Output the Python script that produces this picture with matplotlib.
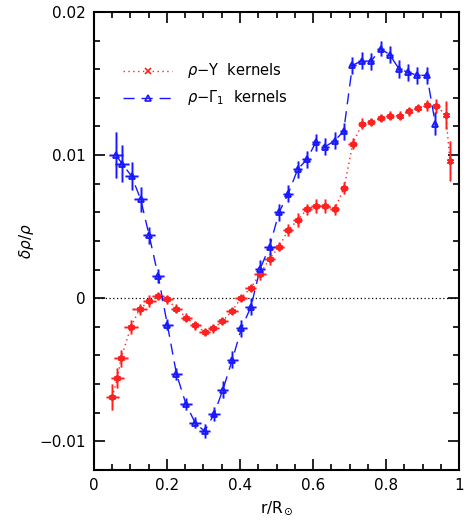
import numpy as np
import matplotlib
matplotlib.use('Agg')
import matplotlib.pyplot as plt
from matplotlib.ticker import MultipleLocator, FuncFormatter

# rho-Y kernel inversion
ry_x = [0.050, 0.064, 0.074, 0.101, 0.125, 0.151, 0.175, 0.200, 0.226, 0.253,
        0.278, 0.303, 0.327, 0.352, 0.378, 0.403, 0.429, 0.455, 0.481, 0.507,
        0.532, 0.558, 0.583, 0.608, 0.634, 0.659, 0.685, 0.709, 0.735, 0.760,
        0.786, 0.811, 0.837, 0.862, 0.887, 0.913, 0.938, 0.964, 0.975]
ry_y = [-0.0069, -0.0056, -0.0042, -0.0020, -0.00077, -0.0002, 0.00016, -0.00007,
        -0.00072, -0.00135, -0.0019, -0.00235, -0.0021, -0.0016, -0.0009, 0.00002,
        0.0007, 0.0017, 0.00275, 0.0036, 0.00476, 0.00545, 0.0062, 0.00645,
        0.00645, 0.0062, 0.0077, 0.0108, 0.0122, 0.0123, 0.0126, 0.01275,
        0.01275, 0.01306, 0.0133, 0.01347, 0.01343, 0.0128, 0.0096]
ry_dy = [0.0009, 0.0007, 0.0006, 0.0005, 0.0004, 0.0004, 0.0003, 0.0003,
         0.0003, 0.0003, 0.0003, 0.0003, 0.0003, 0.0003, 0.0003, 0.0003,
         0.0003, 0.0004, 0.0004, 0.0003, 0.0004, 0.0005, 0.0004, 0.0005,
         0.0005, 0.0004, 0.0004, 0.0004, 0.0004, 0.0003, 0.0003, 0.0003,
         0.0003, 0.0003, 0.0003, 0.0004, 0.0005, 0.0010, 0.0014]
ry_dx = [0.018, 0.018, 0.020, 0.020, 0.020, 0.018, 0.017, 0.016, 0.016, 0.016,
         0.016, 0.016, 0.016, 0.016, 0.016, 0.016, 0.016, 0.016, 0.014, 0.014,
         0.014, 0.013, 0.013, 0.013, 0.012, 0.012, 0.012, 0.012, 0.011, 0.011,
         0.010, 0.010, 0.010, 0.010, 0.009, 0.009, 0.009, 0.005, 0.002]

# rho-Gamma1 kernel inversion
rg_x = [0.060, 0.077, 0.103, 0.128, 0.151, 0.176, 0.201, 0.226, 0.252, 0.277,
        0.303, 0.329, 0.353, 0.379, 0.404, 0.430, 0.455, 0.481, 0.507, 0.532,
        0.558, 0.583, 0.608, 0.634, 0.659, 0.684, 0.708, 0.734, 0.759, 0.785,
        0.810, 0.836, 0.861, 0.886, 0.912, 0.935]
rg_y = [0.0100, 0.0094, 0.00853, 0.0069, 0.0044, 0.00154, -0.00185, -0.0053,
        -0.0074, -0.0087, -0.0093, -0.0081, -0.0064, -0.0043, -0.0021, -0.0006,
        0.00205, 0.0036, 0.0060, 0.0073, 0.0090, 0.0097, 0.0109, 0.0106,
        0.0110, 0.01166, 0.01627, 0.0166, 0.01655, 0.01744, 0.01702, 0.01601,
        0.01578, 0.01557, 0.01557, 0.0122]
rg_dy = [0.0016, 0.0013, 0.0010, 0.00085, 0.0006, 0.0005, 0.0004, 0.0004,
         0.0004, 0.0004, 0.0005, 0.0005, 0.0006, 0.0006, 0.0006, 0.0006,
         0.0006, 0.0006, 0.0006, 0.0006, 0.0006, 0.0006, 0.0006, 0.0006,
         0.0006, 0.0006, 0.0006, 0.0006, 0.0006, 0.0005, 0.0006, 0.0006,
         0.0006, 0.0006, 0.0006, 0.0008]
rg_dx = [0.020, 0.020, 0.018, 0.018, 0.017, 0.016, 0.016, 0.016, 0.016, 0.016,
         0.016, 0.016, 0.015, 0.015, 0.015, 0.015, 0.014, 0.014, 0.013, 0.013,
         0.012, 0.012, 0.011, 0.011, 0.010, 0.010, 0.010, 0.010, 0.009, 0.009,
         0.009, 0.008, 0.008, 0.008, 0.007, 0.004]

plt.rcParams['font.family'] = 'DejaVu Sans'
plt.rcParams['mathtext.fontset'] = 'dejavusans'

fig = plt.figure(figsize=(4.66, 5.21), dpi=100)
ax = fig.add_axes([0.2017, 0.098, 0.7833, 0.879])

red = '#ff2020'
blue = '#1818ff'

# rho-Y: dotted line, asterisks, soft thick error bars under thin ones
ax.errorbar(ry_x, ry_y, xerr=ry_dx, yerr=ry_dy, fmt='none', ecolor=red,
            elinewidth=2.2, alpha=0.4, capsize=0, zorder=2)
ax.errorbar(ry_x, ry_y, xerr=ry_dx, yerr=ry_dy, fmt='none', ecolor=red,
            elinewidth=0.9, capsize=0, zorder=3)
ax.plot(ry_x, ry_y, color=red, ls=(0, (1, 2.5)), lw=1.0, zorder=3)
ax.plot(ry_x, ry_y, ls='none', marker=(6, 2, 0), ms=5, mec=red, mew=1.3, zorder=4)

# rho-Gamma1: dashed line, open triangles
ax.errorbar(rg_x, rg_y, xerr=rg_dx, yerr=rg_dy, fmt='none', ecolor=blue,
            elinewidth=2.2, alpha=0.4, capsize=0, zorder=2)
ax.errorbar(rg_x, rg_y, xerr=rg_dx, yerr=rg_dy, fmt='none', ecolor=blue,
            elinewidth=0.9, capsize=0, zorder=3)
ax.plot(rg_x, rg_y, color=blue, ls=(0, (8, 5)), lw=1.0, zorder=3)
ax.plot(rg_x, rg_y, ls='none', marker='^', ms=5, mfc='none', mec=blue, mew=1.3, zorder=4)

ax.axhline(0, color='black', ls=(0, (1, 2)), lw=0.9, zorder=1)

# legend drawn by hand, as in the original
lx = [0.08, 0.215]
ly1, ly2 = 0.0159, 0.0140
ax.plot(lx, [ly1, ly1], color=red, ls=(0, (1, 2.5)), lw=1.0)
ax.plot([np.mean(lx)], [ly1], marker='x', ms=5, mec=red, mew=1.2)
ax.plot(lx, [ly2, ly2], color=blue, ls=(0, (8, 5)), lw=1.0)
ax.plot([np.mean(lx)], [ly2], marker='^', ms=5, mfc='none', mec=blue, mew=1.2)
ax.text(0.255, ly1, r'$\rho$$-$Y  kernels', va='center', ha='left', fontsize=10.5)
ax.text(0.255, ly2, r'$\rho$$-\Gamma_1$  kernels', va='center', ha='left', fontsize=10.5)

ax.set_xlim(0, 1)
ax.set_ylim(-0.012, 0.02)
ax.xaxis.set_major_locator(MultipleLocator(0.2))
ax.xaxis.set_minor_locator(MultipleLocator(0.05))
ax.yaxis.set_major_locator(MultipleLocator(0.01))
ax.yaxis.set_minor_locator(MultipleLocator(0.002))


def fmt(v, pos):
    if abs(v) < 1e-9:
        return '0'
    s = ('%g' % round(v, 4))
    return s.replace('-', '\u2212')


ax.xaxis.set_major_formatter(FuncFormatter(fmt))
ax.yaxis.set_major_formatter(FuncFormatter(fmt))
ax.tick_params(which='both', direction='in', top=True, right=True, labelsize=11,
               width=1.2, pad=6)
ax.tick_params(which='major', length=8)
ax.tick_params(which='minor', length=4.5)
for sp in ax.spines.values():
    sp.set_linewidth(1.5)

ax.set_xlabel(r'r/R$_\odot$', fontsize=11)
ax.set_ylabel(r'$\delta\rho/\rho$', fontsize=11, labelpad=2)

fig.savefig('out.png', dpi=100)
